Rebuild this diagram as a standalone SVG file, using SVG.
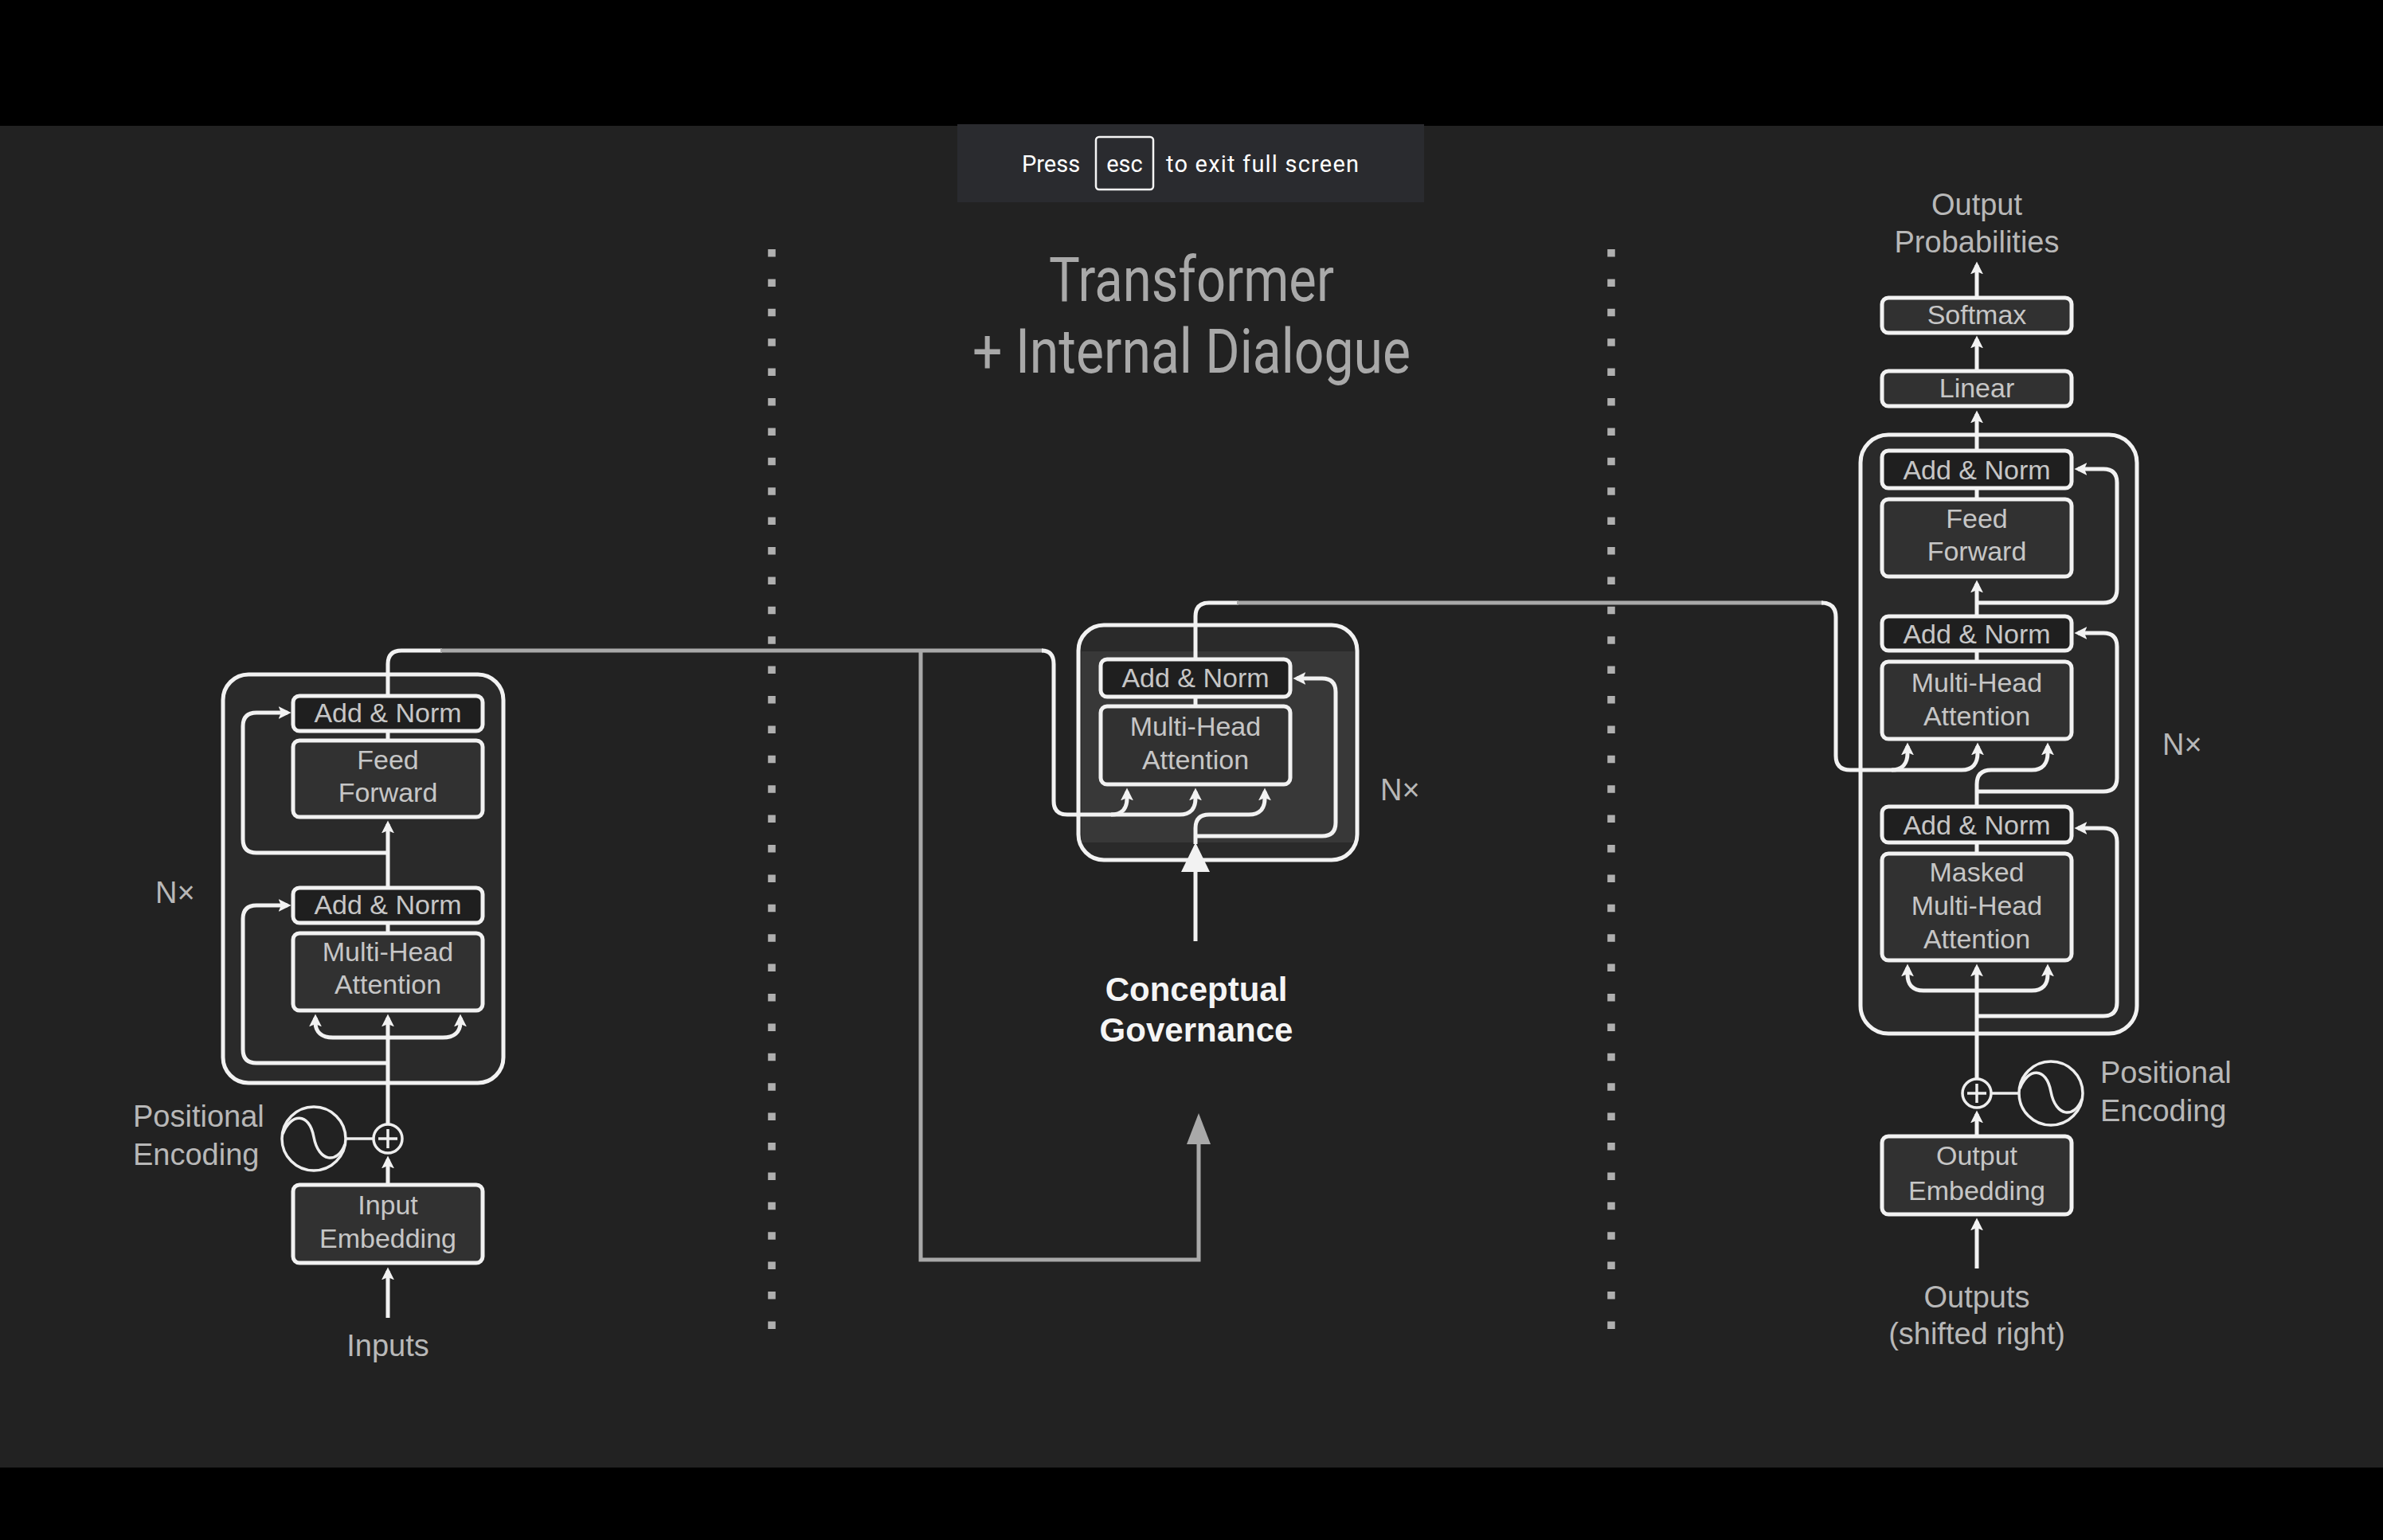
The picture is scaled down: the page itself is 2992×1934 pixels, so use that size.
<svg xmlns="http://www.w3.org/2000/svg" width="2992" height="1934" viewBox="0 0 2992 1934">
<style>
.bg{fill:#222222}
.band{fill:#000000}
.outer{fill:#2a2a2a;stroke:#f2f2f2;stroke-width:5}
.an{fill:#1f1f1f;stroke:#f2f2f2;stroke-width:5}
.blk{fill:#313131;stroke:#f2f2f2;stroke-width:5}
.t{font-family:"Liberation Sans",Arial,sans-serif;font-size:34px;fill:#c6c6c6;text-anchor:middle}
.lbl{font-family:"Liberation Sans",Arial,sans-serif;font-size:38px;fill:#b8b8b8}
.w{fill:none;stroke:#f2f2f2;stroke-width:5}
.thin{fill:none;stroke:#eeeeee;stroke-width:3.5}
.g{fill:none;stroke:#a9a9a9;stroke-width:5}
.dot{fill:none;stroke:#b0b0b0;stroke-width:9.5;stroke-dasharray:9.5 27.9}
</style>
<defs>
<marker id="ah" markerUnits="userSpaceOnUse" markerWidth="16" markerHeight="16" viewBox="0 0 14 14" refX="10" refY="7" orient="auto">
<path d="M0,0 L14,7 L0,14 L3,7 z" fill="#f2f2f2"/>
</marker>
</defs>
<rect class="bg" x="0" y="0" width="2992" height="1934"/>
<rect class="band" x="0" y="0" width="2992" height="158"/>
<rect class="band" x="0" y="1843" width="2992" height="91"/>

<g id="fullscreen-bar">
<rect x="1202" y="156" width="586" height="98" fill="#2a2b2f"/>
<rect x="1376" y="172" width="72" height="66" rx="4" fill="none" stroke="#f5f5f5" stroke-width="2.5"/>
<text x="1283" y="216" font-family="Roboto,Inter,sans-serif" font-size="29" fill="#ffffff">Press</text>
<text x="1412" y="216" font-family="Roboto,Inter,sans-serif" font-size="29" fill="#ffffff" text-anchor="middle">esc</text>
<text x="1464" y="216" font-family="Roboto,Inter,sans-serif" font-size="29" fill="#ffffff" textLength="242">to exit full screen</text>
</g>

<g id="title">
<text x="1317" y="378" font-family="Roboto,'Liberation Sans',sans-serif" font-size="78" fill="#a9a9a9" textLength="358" lengthAdjust="spacingAndGlyphs">Transformer</text>
<text x="1221" y="468" font-family="Roboto,'Liberation Sans',sans-serif" font-size="78" fill="#a9a9a9" textLength="550" lengthAdjust="spacingAndGlyphs">+ Internal Dialogue</text>
</g>

<g id="dividers">
<line class="dot" x1="969" y1="313" x2="969" y2="1672"/>
<line class="dot" x1="2023" y1="313" x2="2023" y2="1672"/>
</g>

<!-- ENCODER -->
<g id="encoder">
<rect class="outer" x="280" y="847" width="352" height="513" rx="32"/>
<text class="lbl" x="195" y="1134" font-size="37">N×</text>
</g>
<g id="enc-addnorm-1">
<rect class="an" x="368" y="874" width="238" height="44" rx="8"/>
<text class="t" x="487" y="907">Add &amp; Norm</text>
</g>
<g id="enc-feedforward">
<rect class="blk" x="368" y="930" width="238" height="96" rx="8"/>
<text class="t" x="487" y="966">Feed</text>
<text class="t" x="487" y="1007">Forward</text>
</g>
<g id="enc-addnorm-2">
<rect class="an" x="368" y="1115" width="238" height="44" rx="8"/>
<text class="t" x="487" y="1148">Add &amp; Norm</text>
</g>
<g id="enc-mha">
<rect class="blk" x="368" y="1172" width="238" height="97" rx="8"/>
<text class="t" x="487" y="1207">Multi-Head</text>
<text class="t" x="487" y="1248">Attention</text>
</g>
<g id="enc-posenc">
<circle class="thin" cx="487" cy="1430" r="18"/>
<path class="thin" d="M475,1430 H499 M487,1418 V1442"/>
<circle class="thin" cx="394" cy="1430" r="40"/>
<path class="thin" d="M355,1424 C365,1398 388,1396 394,1428 C400,1460 424,1462 433,1437"/>
<path class="thin" d="M434,1430 H469"/>
<text class="lbl" x="167" y="1415">Positional</text>
<text class="lbl" x="167" y="1463">Encoding</text>
</g>
<g id="enc-input-embedding">
<rect class="blk" x="368" y="1488" width="238" height="98" rx="8"/>
<text class="t" x="487" y="1525">Input</text>
<text class="t" x="487" y="1567">Embedding</text>
<text class="lbl" x="487" y="1703" text-anchor="middle">Inputs</text>
</g>

<!-- MIDDLE -->
<g id="mid-block">
<rect class="outer" x="1354" y="785" width="350" height="295" rx="32" fill="#2e2e2e"/>
<rect x="1358" y="818" width="342" height="240" fill="#383838"/>
<text class="lbl" x="1733" y="1005" font-size="36">N×</text>
</g>
<g id="mid-addnorm">
<rect class="an" x="1382" y="828" width="238" height="47" rx="8" fill="#252525"/>
<text class="t" x="1501" y="863">Add &amp; Norm</text>
</g>
<g id="mid-mha">
<rect class="blk" x="1382" y="887" width="238" height="98" rx="8" fill="#353535"/>
<text class="t" x="1501" y="924">Multi-Head</text>
<text class="t" x="1501" y="966">Attention</text>
</g>
<g id="conceptual-governance">
<text x="1502" y="1257" font-family="'Liberation Sans',Arial,sans-serif" font-weight="bold" font-size="42" fill="#f5f5f5" text-anchor="middle">Conceptual</text>
<text x="1502" y="1308" font-family="'Liberation Sans',Arial,sans-serif" font-weight="bold" font-size="42" fill="#f5f5f5" text-anchor="middle">Governance</text>
</g>

<!-- DECODER -->
<g id="output-probabilities">
<text class="lbl" x="2482" y="270" text-anchor="middle">Output</text>
<text class="lbl" x="2482" y="317" text-anchor="middle">Probabilities</text>
</g>
<g id="dec-softmax">
<rect class="blk" x="2363" y="374" width="238" height="44" rx="8" fill="#333333"/>
<text class="t" x="2482" y="407">Softmax</text>
</g>
<g id="dec-linear">
<rect class="blk" x="2363" y="466" width="238" height="44" rx="8" fill="#333333"/>
<text class="t" x="2482" y="499">Linear</text>
</g>
<g id="decoder">
<rect class="outer" x="2336" y="546" width="347" height="752" rx="35"/>
<text class="lbl" x="2715" y="948" font-size="37">N×</text>
</g>
<g id="dec-addnorm-1">
<rect class="an" x="2363" y="566" width="238" height="47" rx="8"/>
<text class="t" x="2482" y="602">Add &amp; Norm</text>
</g>
<g id="dec-feedforward">
<rect class="blk" x="2363" y="627" width="238" height="97" rx="8"/>
<text class="t" x="2482" y="663">Feed</text>
<text class="t" x="2482" y="704">Forward</text>
</g>
<g id="dec-addnorm-2">
<rect class="an" x="2363" y="774" width="238" height="43" rx="8"/>
<text class="t" x="2482" y="808">Add &amp; Norm</text>
</g>
<g id="dec-mha">
<rect class="blk" x="2363" y="831" width="238" height="97" rx="8"/>
<text class="t" x="2482" y="869">Multi-Head</text>
<text class="t" x="2482" y="911">Attention</text>
</g>
<g id="dec-addnorm-3">
<rect class="an" x="2363" y="1013" width="238" height="45" rx="8"/>
<text class="t" x="2482" y="1048">Add &amp; Norm</text>
</g>
<g id="dec-masked-mha">
<rect class="blk" x="2363" y="1072" width="238" height="134" rx="8"/>
<text class="t" x="2482" y="1107">Masked</text>
<text class="t" x="2482" y="1149">Multi-Head</text>
<text class="t" x="2482" y="1191">Attention</text>
</g>
<g id="dec-posenc">
<circle class="thin" cx="2482" cy="1373" r="18"/>
<path class="thin" d="M2470,1373 H2494 M2482,1361 V1385"/>
<circle class="thin" cx="2575" cy="1373" r="40"/>
<path class="thin" d="M2536,1367 C2546,1341 2569,1339 2575,1371 C2581,1403 2605,1405 2614,1380"/>
<path class="thin" d="M2500,1373 H2535"/>
<text class="lbl" x="2637" y="1360">Positional</text>
<text class="lbl" x="2637" y="1408">Encoding</text>
</g>
<g id="dec-output-embedding">
<rect class="blk" x="2363" y="1427" width="238" height="98" rx="8"/>
<text class="t" x="2482" y="1463">Output</text>
<text class="t" x="2482" y="1507">Embedding</text>
<text class="lbl" x="2482" y="1642" text-anchor="middle">Outputs</text>
<text class="lbl" x="2482" y="1688" text-anchor="middle">(shifted right)</text>
</g>

<g id="connectors">
<!-- encoder internals -->
<path class="w" d="M487,918 V930"/>
<path class="w" d="M487,1159 V1172"/>
<path class="w" d="M487,1115 V1035" marker-end="url(#ah)"/>
<path class="w" d="M487,1071 H322 Q305,1071 305,1054 V912 Q305,895 322,895 H361" marker-end="url(#ah)"/>
<path class="w" d="M487,1335 H322 Q305,1335 305,1318 V1154 Q305,1137 322,1137 H361" marker-end="url(#ah)"/>
<path class="w" d="M487,1412 V1278" marker-end="url(#ah)"/>
<path class="w" d="M487,1303 H418 C404,1303 396,1296 396,1284 V1278" marker-end="url(#ah)"/>
<path class="w" d="M487,1303 H556 C570,1303 578,1296 578,1284 V1278" marker-end="url(#ah)"/>
<path class="w" d="M487,1488 V1456" marker-end="url(#ah)"/>
<path class="w" d="M487,1655 V1596" marker-end="url(#ah)"/>
<!-- encoder output to middle block -->
<path class="w" d="M487,874 V834 Q487,817 504,817 H555"/>
<path class="g" d="M553,817 H1310"/>
<path class="w" d="M1308,817 Q1323,817 1323,834 V1006 Q1323,1023 1340,1023 H1395 C1409,1023 1415,1015 1415,1003 V994" marker-end="url(#ah)"/>
<path class="w" d="M1395,1023 H1481 C1495,1023 1501,1015 1501,1003 V994" marker-end="url(#ah)"/>
<!-- feedback loop to governance -->
<path class="g" d="M1156,817 V1582 H1505 V1432"/>
<polygon points="1505,1398 1490,1437 1520,1437" fill="#a9a9a9"/>
<!-- middle internals -->
<path class="w" d="M1501,875 V887"/>
<path class="w" d="M1501,1182 V1092" stroke-width="6"/>
<polygon points="1501,1058 1483,1095 1519,1095" fill="#f2f2f2"/>
<path class="w" d="M1501,1060 V1040 Q1501,1023 1518,1023 H1568 C1582,1023 1588,1015 1588,1003 V994" marker-end="url(#ah)"/>
<path class="w" d="M1501,1050 H1660 Q1677,1050 1677,1033 V869 Q1677,852 1660,852 H1628" marker-end="url(#ah)"/>
<!-- middle output to decoder -->
<path class="w" d="M1501,828 V774 Q1501,757 1518,757 H1555"/>
<path class="g" d="M1553,757 H2289"/>
<path class="w" d="M2287,757 Q2305,757 2305,775 V949 Q2305,967 2323,967 H2375 C2389,967 2395,958 2395,946 V937" marker-end="url(#ah)"/>
<path class="w" d="M2375,967 H2463 C2477,967 2483,958 2483,946 V937" marker-end="url(#ah)"/>
<!-- decoder internals -->
<path class="w" d="M2482,374 V333" marker-end="url(#ah)"/>
<path class="w" d="M2482,466 V426" marker-end="url(#ah)"/>
<path class="w" d="M2482,566 V520" marker-end="url(#ah)"/>
<path class="w" d="M2482,613 V627"/>
<path class="w" d="M2482,774 V733" marker-end="url(#ah)"/>
<path class="w" d="M2482,757 H2641 Q2658,757 2658,740 V606 Q2658,589 2641,589 H2609" marker-end="url(#ah)"/>
<path class="w" d="M2482,817 V831"/>
<path class="w" d="M2482,1013 V985 Q2482,967 2500,967 H2551 C2565,967 2571,958 2571,946 V937" marker-end="url(#ah)"/>
<path class="w" d="M2482,994 H2641 Q2658,994 2658,977 V812 Q2658,795 2641,795 H2609" marker-end="url(#ah)"/>
<path class="w" d="M2482,1058 V1072"/>
<path class="w" d="M2482,1276 H2641 Q2658,1276 2658,1259 V1057 Q2658,1040 2641,1040 H2609" marker-end="url(#ah)"/>
<path class="w" d="M2482,1355 V1215" marker-end="url(#ah)"/>
<path class="w" d="M2482,1244 H2415 C2401,1244 2395,1236 2395,1224 V1215" marker-end="url(#ah)"/>
<path class="w" d="M2482,1244 H2551 C2565,1244 2571,1236 2571,1224 V1215" marker-end="url(#ah)"/>
<path class="w" d="M2482,1427 V1399" marker-end="url(#ah)"/>
<path class="w" d="M2482,1593 V1534" marker-end="url(#ah)"/>
</g>
</svg>
